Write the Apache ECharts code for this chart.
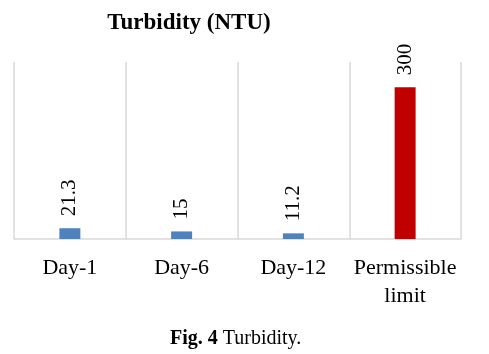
<!DOCTYPE html>
<html><head><meta charset="utf-8">
<script src="https://cdn.jsdelivr.net/npm/echarts@6/dist/echarts.min.js"></script>
<style>html,body{margin:0;padding:0;background:#fff}#c{width:489px;height:354px}</style>
</head><body><div id="c"></div>
<script>
const categories = ['Day-1', 'Day-6', 'Day-12', 'Permissible\nlimit'];
const values = [21.3, 15, 11.2, 300];
const barColors = ['#4F81BD', '#4F81BD', '#4F81BD', '#C00000'];
const titleText = 'Turbidity (NTU)';

const FONT = '"Liberation Serif", serif';
const chart = echarts.init(document.getElementById('c'));
chart.setOption({
  animation: false,
  title: {
    text: titleText, left: 184, top: 7, textAlign: 'center',
    textStyle: { fontFamily: FONT, fontWeight: 'bold', fontSize: 23, color: '#000' }
  },
  grid: { left: 14, right: 28, top: 62, bottom: 115 },
  xAxis: {
    type: 'category', data: categories,
    axisLine: { lineStyle: { color: '#d9d9d9', width: 1.5 } },
    axisTick: { show: false },
    splitLine: { show: true, lineStyle: { color: '#d9d9d9', width: 1.5 } },
    axisLabel: { fontFamily: FONT, fontSize: 22, color: '#000', margin: 15, lineHeight: 28, interval: 0 }
  },
  yAxis: { type: 'value', min: 0, max: 350, show: false, splitLine: { show: false } },
  series: [{
    type: 'bar', barWidth: 21,
    data: values.map((v, i) => ({ value: v, itemStyle: { color: barColors[i] } })),
    label: {
      show: true, position: 'top', rotate: 90, distance: 12, align: 'left', verticalAlign: 'middle',
      fontFamily: FONT, fontSize: 21, color: '#000'
    }
  }],
  graphic: [{
    type: 'text', left: 170, top: 329,
    style: {
      text: '{b|Fig. 4} Turbidity.',
      rich: { b: { fontFamily: FONT, fontWeight: 'bold', fontSize: 20, fill: '#000' } },
      fontFamily: FONT, fontSize: 20, fill: '#000'
    }
  }]
});
</script></body></html>
